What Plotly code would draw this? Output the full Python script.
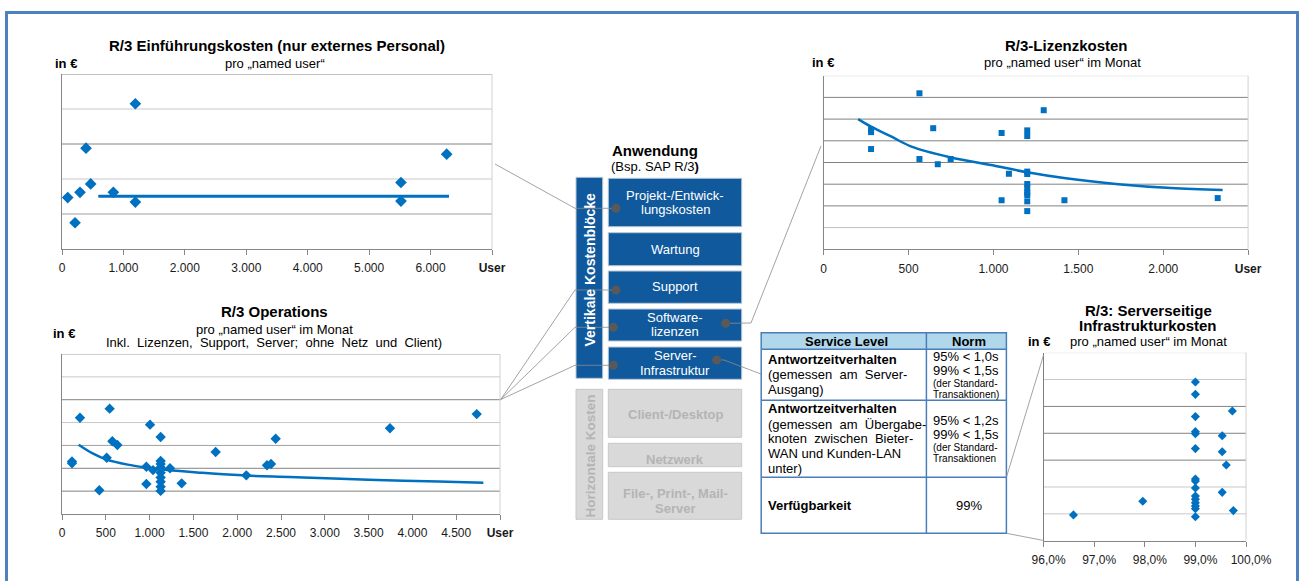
import plotly.graph_objects as go

W, H = 1300, 581


def PX(x):
    return x / W


def PY(y):
    return 1 - y / H


BLUE = "#0070C0"
NAVY = "#10599C"
GREY_BOX = "#D9D9D9"
GREY_TXT = "#B4B4B4"
AXIS = "#868686"
FRAME = "#4F81BD"
FONT = "Liberation Sans, Arial, Helvetica, sans-serif"

# ---------------- data ----------------
# Chart 1: R/3 Einführungskosten (nur externes Personal)
c1_users = [93, 212, 293, 391, 467, 836, 1194, 1194, 5518, 5518, 6262]
c1_cost = [1.47, 0.75, 1.62, 2.88, 1.86, 1.62, 4.15, 1.34, 1.90, 1.37, 2.71]
c1_trend_users = [591, 6300]
c1_trend_cost = [1.51, 1.51]
c1_tickvals = [0, 1000, 2000, 3000, 4000, 5000, 6000, 7000]
c1_ticktext = ["0", "1.000", "2.000", "3.000", "4.000", "5.000", "6.000", "<b>User</b>"]

# Chart 2: R/3 Operations
c2_users = [114, 114, 205, 426, 510, 544, 575, 632, 963, 963, 1005, 1039,
            1126, 1126, 1126, 1126, 1126, 1126, 1126, 1126, 1126,
            1233, 1366, 1754, 2104, 2340, 2386, 2439, 3744, 4734]
c2_cost = [2.30, 2.22, 4.21, 1.04, 2.46, 4.61, 3.18, 3.02, 2.07, 1.31, 3.91, 1.92,
           3.37, 2.32, 2.19, 2.04, 1.81, 1.60, 1.41, 1.19, 1.01,
           2.00, 1.34, 2.71, 1.69, 2.13, 2.19, 3.29, 3.75, 4.37]
c2_trend_users = [190, 350, 510, 750, 967, 1200, 1600, 2104, 2600, 3100, 3700, 4300, 4810]
c2_trend_cost = [3.03, 2.65, 2.38, 2.16, 2.03, 1.92, 1.80, 1.68, 1.62, 1.55, 1.48, 1.42, 1.37]
c2_tickvals = [0, 500, 1000, 1500, 2000, 2500, 3000, 3500, 4000, 4500, 5000]
c2_ticktext = ["0", "500", "1.000", "1.500", "2.000", "2.500", "3.000", "3.500",
               "4.000", "4.500", "<b>User</b>"]

# Chart 3: R/3-Lizenzkosten
c3_users = [564, 1296, 279, 279, 279, 645, 564, 672, 748, 1048, 1091, 1048,
            1199, 1199, 1199, 1199, 1199, 1199, 1199, 1199, 1199, 1199, 1418, 2321]
c3_cost = [7.19, 6.41, 5.50, 5.40, 4.62, 5.58, 4.16, 3.92, 4.16, 5.36, 3.48, 2.26,
           5.48, 5.22, 3.58, 3.47, 3.01, 2.81, 2.61, 2.50, 2.21, 1.76, 2.26, 2.36]
c3_trend_users = [203, 279, 400, 517, 744, 1013, 1199, 1426, 1736, 2046, 2350]
c3_trend_cost = [6.00, 5.65, 5.19, 4.73, 4.24, 3.84, 3.55, 3.27, 3.00, 2.82, 2.73]
c3_tickvals = [0, 500, 1000, 1500, 2000, 2500]
c3_ticktext = ["0", "500", "1.000", "1.500", "2.000", "<b>User</b>"]

# Chart 4: R/3: Serverseitige Infrastrukturkosten
c4_avail = [96.59, 97.96,
            99.0, 99.0, 99.0, 99.0, 99.0, 99.0, 99.0, 99.0,
            99.0, 99.0, 99.0, 99.0, 99.0, 99.0, 99.0,
            99.73, 99.53, 99.53, 99.61, 99.53, 99.75]
c4_cost = [0.96, 1.47,
           5.91, 5.45, 4.62, 4.06, 3.98, 3.43, 2.30, 2.22,
           1.96, 1.66, 1.54, 1.41, 1.29, 1.19, 0.89,
           4.83, 3.91, 3.31, 2.82, 1.80, 1.12]
c4_tickvals = [96, 97, 98, 99, 100]
c4_ticktext = ["96,0%", "97,0%", "98,0%", "99,0%", "100,0%"]

# table content
table_header = ["Service Level", "Norm"]

# ---------------- figure ----------------
fig = go.Figure()

fig.add_trace(go.Scatter(x=c1_trend_users, y=c1_trend_cost, mode="lines",
                         line=dict(color=BLUE, width=3), xaxis="x", yaxis="y",
                         hoverinfo="skip"))
fig.add_trace(go.Scatter(x=c1_users, y=c1_cost, mode="markers",
                         marker=dict(symbol="diamond", size=9, color=BLUE),
                         xaxis="x", yaxis="y", cliponaxis=False))

fig.add_trace(go.Scatter(x=c2_trend_users, y=c2_trend_cost, mode="lines",
                         line=dict(color=BLUE, width=2.5, shape="spline"),
                         xaxis="x2", yaxis="y2", hoverinfo="skip"))
fig.add_trace(go.Scatter(x=c2_users, y=c2_cost, mode="markers",
                         marker=dict(symbol="diamond", size=8, color=BLUE),
                         xaxis="x2", yaxis="y2", cliponaxis=False))

fig.add_trace(go.Scatter(x=c3_trend_users, y=c3_trend_cost, mode="lines",
                         line=dict(color=BLUE, width=2.5, shape="spline"),
                         xaxis="x3", yaxis="y3", hoverinfo="skip"))
fig.add_trace(go.Scatter(x=c3_users, y=c3_cost, mode="markers",
                         marker=dict(symbol="square", size=6, color=BLUE),
                         xaxis="x3", yaxis="y3", cliponaxis=False))

fig.add_trace(go.Scatter(x=c4_avail, y=c4_cost, mode="markers",
                         marker=dict(symbol="diamond", size=7, color=BLUE),
                         xaxis="x4", yaxis="y4", cliponaxis=False))


def xax(x0, x1, rng, tv, tt, anchor, shift=0):
    return dict(domain=[PX(x0), PX(x1)], range=rng, tickvals=tv, ticktext=tt,
                anchor=anchor, showline=True, linecolor=AXIS, linewidth=1,
                ticks="outside", ticklen=5, tickcolor=AXIS, tickwidth=1,
                showgrid=False, zeroline=False, fixedrange=True, automargin=False,
                ticklabelshift=shift, ticklabelstandoff=3,
                tickfont=dict(family=FONT, size=12, color="#1a1a1a"))


def yax(y0, y1, rng, anchor, line=AXIS):
    return dict(domain=[PY(y1), PY(y0)], range=rng, anchor=anchor,
                showline=True, linecolor=line, linewidth=1, ticks="",
                showticklabels=False, showgrid=False, zeroline=False,
                fixedrange=True, automargin=False)


layout = dict(
    width=W, height=H, autosize=False,
    margin=dict(l=0, r=0, t=0, b=0, pad=0, autoexpand=False),
    paper_bgcolor="white", plot_bgcolor="white",
    showlegend=False,
    font=dict(family=FONT, color="#000000"),
    xaxis=xax(62, 492, [0, 7000], c1_tickvals, c1_ticktext, "y"),
    yaxis=yax(74, 249, [0, 5], "x"),
    xaxis2=xax(62, 500, [0, 5000], c2_tickvals, c2_ticktext, "y2"),
    yaxis2=yax(354, 514, [0, 7], "x2"),
    xaxis3=xax(823.7, 1248.1, [0, 2500], c3_tickvals, c3_ticktext, "y3"),
    yaxis3=yax(75.7, 249.3, [0, 8], "x3"),
    xaxis4=xax(1043.6, 1246, [96, 100], c4_tickvals, c4_ticktext, "y4", shift=5),
    yaxis4=yax(352.7, 540.7, [0, 7], "x4", line="#7f7f7f"),
)

shapes = []
LIGHT, MID, DARKG = "#C8C8C8", "#A0A0A0", "#828282"

# gridlines (drawn at the y axis tick values) + right borders
grid_specs = [
    ("x", "y", [1, 2, 3, 4, 5], [MID, LIGHT, DARKG, LIGHT, DARKG]),
    ("x2", "y2", [1, 2, 3, 4, 5, 6, 7], [DARKG, DARKG, MID, LIGHT, DARKG, LIGHT, MID]),
    ("x3", "y3", [1, 2, 3, 4, 5, 6, 7, 8],
     ["#BFBFBF", DARKG, DARKG, DARKG, DARKG, DARKG, DARKG, "#D0D0D0"]),
    ("x4", "y4", [1, 2, 3, 4, 5, 6, 7], [LIGHT, LIGHT, DARKG, DARKG, DARKG, LIGHT, "#D9D9D9"]),
]
for xa, ya, vals, cols in grid_specs:
    for v, c in zip(vals, cols):
        shapes.append(dict(type="line", xref=f"{xa} domain", yref=ya, x0=0, x1=1,
                           y0=v, y1=v, line=dict(color=c, width=1), layer="below"))
    shapes.append(dict(type="line", xref=f"{xa} domain", yref=f"{ya} domain",
                       x0=1, x1=1, y0=0, y1=1, line=dict(color="#D0D0D0", width=1),
                       layer="below"))


def rect(x0, y0, x1, y1, fill, line=None, lw=1):
    shapes.append(dict(type="rect", xref="paper", yref="paper",
                       x0=PX(x0), x1=PX(x1), y0=PY(y1), y1=PY(y0),
                       fillcolor=fill,
                       line=dict(color=line if line else fill, width=lw if line else 0)))


def path(points, color="#8C8C8C", width=0.8):
    d = "M " + " L ".join(f"{PX(x):.5f} {PY(y):.5f}" for x, y in points)
    shapes.append(dict(type="path", xref="paper", yref="paper", path=d,
                       line=dict(color=color, width=width)))


def dot(x, y, r=4.5):
    shapes.append(dict(type="circle", xref="paper", yref="paper",
                       x0=PX(x - r), x1=PX(x + r), y0=PY(y + r), y1=PY(y - r),
                       fillcolor="#595959", line=dict(width=0)))


# frame
shapes.append(dict(type="rect", xref="paper", yref="paper",
                   x0=PX(6.5), x1=PX(1297.5), y0=PY(640), y1=PY(12.5),
                   fillcolor="rgba(0,0,0,0)", line=dict(color=FRAME, width=3)))

# central block diagram
BOX_EDGE = "#B8C7D9"
rect(576, 177.3, 602.7, 378.3, NAVY, BOX_EDGE)
rect(608.3, 178.3, 741.7, 226.7, NAVY, BOX_EDGE)
rect(608.3, 232.7, 741.7, 265.7, NAVY, BOX_EDGE)
rect(608.3, 271, 741.7, 303.3, NAVY, BOX_EDGE)
rect(608.3, 309, 741.7, 341, NAVY, BOX_EDGE)
rect(608.3, 347, 741.7, 379.3, NAVY, BOX_EDGE)
rect(576, 389.3, 602.7, 519.3, GREY_BOX, "#C8C8C8")
rect(608.3, 389.3, 741.7, 437.3, GREY_BOX, "#C8C8C8")
rect(608.3, 443.3, 741.7, 466.7, GREY_BOX, "#C8C8C8")
rect(608.3, 472.3, 741.7, 519.3, GREY_BOX, "#C8C8C8")

# table
TB = "#4A7EBB"
rect(761.2, 332.7, 1006.4, 349.3, "#B0D7EA")
rect(761.2, 332.7, 1006.4, 533.3, "rgba(0,0,0,0)", TB, 1.5)
for yy in (349.3, 400.3, 477.3):
    path([(761.2, yy), (1006.4, yy)], TB, 1.5)
path([(926.4, 332.7), (926.4, 533.3)], TB, 1.5)

# connectors
path([(495, 164), (575, 208.3), (616, 208.3)])
path([(500.7, 399.5), (575, 290), (616, 290)])
path([(500.7, 399.5), (575, 327.3), (613.3, 327.3)])
path([(500.7, 399.5), (575, 365.3), (613.3, 365.3)])
path([(725.7, 323.3), (751, 323), (821, 146)])
path([(716.7, 360), (724, 360), (761, 374)])
path([(1006.4, 477.3), (1043.6, 355)])
path([(1006.4, 533.3), (1043.6, 540.5)])

# connector dots
dot(616, 208.3)
dot(616, 290)
dot(613.3, 327.3)
dot(725.7, 323.3)
dot(613.3, 365.3)
dot(716.7, 360)

layout["shapes"] = shapes

ann = []


def txt(x, y, s, size=13, bold=False, color="#000000", xanchor="center", angle=0):
    ann.append(dict(x=PX(x), y=PY(y), xref="paper", yref="paper",
                    text=f"<b>{s}</b>" if bold else s, showarrow=False,
                    font=dict(family=FONT, size=size, color=color),
                    xanchor=xanchor, yanchor="middle", textangle=angle,
                    align="left" if xanchor == "left" else "center"))


# chart titles
txt(277, 45, "R/3 Einführungskosten (nur externes Personal)", 15, True)
txt(275, 63, "pro „named user“", 13)
txt(65.5, 63, "in €", 13, True)

txt(274, 311.7, "R/3 Operations", 15, True)
txt(274, 329, "pro „named user“ im Monat", 13)
txt(274, 342.3, "Inkl.\u00a0 Lizenzen,\u00a0 Support,\u00a0 Server;\u00a0 ohne\u00a0 Netz\u00a0 und\u00a0 Client)", 13)
txt(63.5, 333, "in €", 13, True)

txt(1066.4, 45, "R/3-Lizenzkosten", 15, True)
txt(1062, 62.3, "pro „named user“ im Monat", 13)
txt(822.5, 62, "in €", 13, True)

txt(1148, 310, "R/3: Serverseitige", 15, True)
txt(1148, 325.7, "Infrastrukturkosten", 15, True)
txt(1148, 341, "pro „named user“ im Monat", 13)
txt(1039, 341, "in €", 13, True)

# block diagram texts
txt(655, 150.7, "Anwendung", 15, True)
txt(655, 166.7, "(Bsp. SAP R/3<b>)</b>", 13)
txt(589.5, 270, "Vertikale Kostenblöcke", 14, True, "white", angle=-90)
txt(675, 195.7, "Projekt-/Entwick-", 13, color="white")
txt(675, 209.3, "lungskosten", 13, color="white")
txt(675, 249.3, "Wartung", 13, color="white")
txt(675, 287, "Support", 13, color="white")
txt(675, 317.7, "Software-", 13, color="white")
txt(675, 331.7, "lizenzen", 13, color="white")
txt(675, 355.7, "Server-", 13, color="white")
txt(675, 370, "Infrastruktur", 13, color="white")
txt(589.5, 456, "Horizontale Kosten", 13.5, True, GREY_TXT, angle=-90)
txt(675, 414.3, "Client-/Desktop", 13, True, GREY_TXT)
txt(675, 460, "Netzwerk", 13, True, GREY_TXT)
txt(675, 493.3, "File-, Print-, Mail-", 13, True, GREY_TXT)
txt(675, 508.7, "Server", 13, True, GREY_TXT)

# table texts
txt(846.5, 341.5, table_header[0], 13, True)
txt(968.5, 341.5, table_header[1], 13, True)
NB = "\u00a0"
txt(766, 359.3, "Antwortzeitverhalten", 13, True, xanchor="left")
txt(766, 374.3, f"(gemessen{NB} am{NB} Server-", 13, xanchor="left")
txt(766, 389.3, "Ausgang)", 13, xanchor="left")
txt(931.3, 356.7, "95% &lt; 1,0s", 13, xanchor="left")
txt(931.3, 370.7, "99% &lt; 1,5s", 13, xanchor="left")
txt(931.3, 383.7, "(der Standard-", 10, xanchor="left")
txt(931.3, 394.7, "Transaktionen)", 10, xanchor="left")

txt(766, 409, "Antwortzeitverhalten", 13, True, xanchor="left")
txt(766, 424.7, f"(gemessen{NB} am{NB} Übergabe-", 13, xanchor="left")
txt(766, 438.3, f"knoten{NB} zwischen{NB} Bieter-", 13, xanchor="left")
txt(766, 453.3, "WAN und Kunden-LAN", 13, xanchor="left")
txt(766, 468.3, "unter)", 13, xanchor="left")
txt(931.3, 420.7, "95% &lt; 1,2s", 13, xanchor="left")
txt(931.3, 434.7, "99% &lt; 1,5s", 13, xanchor="left")
txt(931.3, 447.7, "(der Standard-", 10, xanchor="left")
txt(931.3, 458.3, "Transaktionen", 10, xanchor="left")

txt(766, 505.7, "Verfügbarkeit", 13, True, xanchor="left")
txt(968.5, 505.7, "99%", 13)

layout["annotations"] = ann
fig.update_layout(**layout)

fig.write_html("out.html", include_plotlyjs=True, config={"displayModeBar": False})
